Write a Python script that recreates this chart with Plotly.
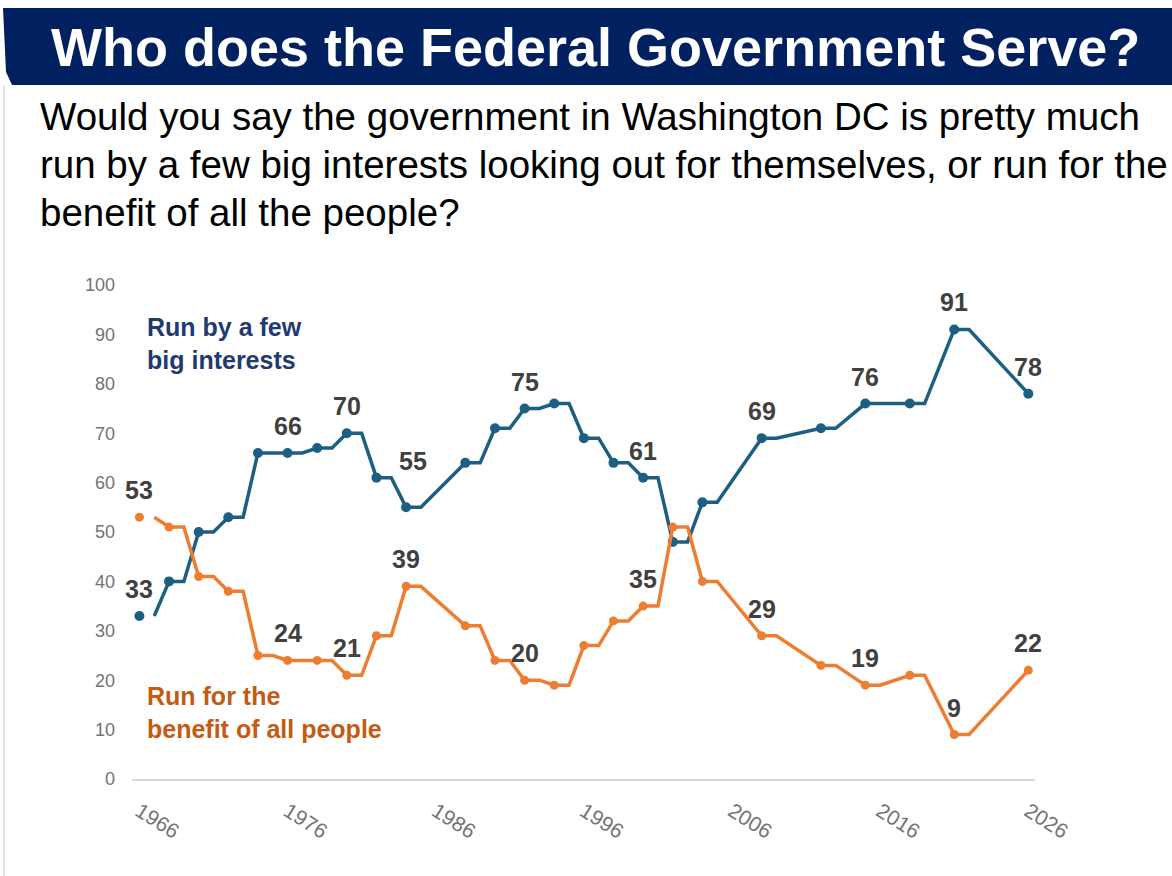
import plotly.graph_objects as go

# ---------------- data ----------------
years = [1966, 1968, 1970, 1972, 1974, 1976, 1978, 1980, 1982, 1984, 1988, 1990,
         1992, 1994, 1996, 1998, 2000, 2002, 2004, 2008, 2012, 2015, 2018, 2021, 2026]
few_big_interests = [33, 40, 50, 53, 66, 66, 67, 70, 61, 55, 64, 71,
                     75, 76, 69, 64, 61, 48, 56, 69, 71, 76, 76, 91, 78]
benefit_all = [53, 51, 41, 38, 25, 24, 24, 21, 29, 39, 31, 24,
               20, 19, 27, 32, 35, 51, 40, 29, 23, 19, 21, 9, 22]
labeled_years_few = [1966, 1976, 1980, 1984, 1992, 2000, 2008, 2015, 2021, 2026]
labeled_years_benefit = [1966, 1976, 1980, 1984, 1992, 2000, 2008, 2015, 2021, 2026]
x_ticks = [1966, 1976, 1986, 1996, 2006, 2016, 2026]

title_text = "Who does the Federal Government Serve?"
question_lines = [
    "Would you say the government in Washington DC is pretty much",
    "run by a few big interests looking out for themselves, or run for the",
    "benefit of all the people?",
]
label_few = "Run by a few<br>big interests"
label_benefit = "Run for the<br>benefit of all people"

# ---------------- style ----------------
BLUE = "#1c5f82"
ORANGE = "#ed7d31"
NAVY = "#002060"
LABEL_BLUE = "#1f3a70"
LABEL_ORANGE = "#c55a11"
DARK = "#404040"
GRAY = "#737373"
FONT = "Liberation Sans, Arial, sans-serif"

W, H = 1172, 876
ML, MR, MT, MB = 132, 137, 285, 97
PW, PH = W - ML - MR, H - MT - MB


def px(x):
    return (x - ML) / PW


def py(y):
    return (H - MB - y) / PH


HOLD = 1  # drawn flat segment after each survey point


def held_line(xs, ys):
    lx, ly = [xs[0] + HOLD], [ys[0]]
    for i in range(1, len(xs)):
        lx.append(xs[i]); ly.append(ys[i])
        if i < len(xs) - 1:
            lx.append(xs[i] + HOLD); ly.append(ys[i])
    return lx, ly


fig = go.Figure()

for vals, color, msize in [(few_big_interests, BLUE, 10), (benefit_all, ORANGE, 9)]:
    lx, ly = held_line(years, vals)
    fig.add_trace(go.Scatter(x=lx, y=ly, mode="lines",
                             line=dict(color=color, width=3.5),
                             hoverinfo="skip", showlegend=False, cliponaxis=False))
    fig.add_trace(go.Scatter(x=years, y=vals, mode="markers",
                             marker=dict(color=color, size=msize),
                             showlegend=False, cliponaxis=False))

annotations = []
for vals, lab_years in [(few_big_interests, labeled_years_few), (benefit_all, labeled_years_benefit)]:
    for yr in lab_years:
        v = vals[years.index(yr)]
        xs, ys = 0, 11
        if vals is few_big_interests and yr == 1984:
            xs, ys = 7, 30
        annotations.append(dict(x=yr, y=v, xref="x", yref="y", text=str(v),
                                showarrow=False, yanchor="bottom", xanchor="center",
                                xshift=xs, yshift=ys,
                                font=dict(family=FONT, size=25, color=DARK, weight="bold")))

# series labels
annotations.append(dict(x=px(145), y=py(343), xref="paper", yref="paper", text=label_few,
                        showarrow=False, xanchor="left", yanchor="middle", align="left",
                        font=dict(family=FONT, size=25, color=LABEL_BLUE, weight="bold")))
annotations.append(dict(x=px(145), y=py(712), xref="paper", yref="paper", text=label_benefit,
                        showarrow=False, xanchor="left", yanchor="middle", align="left",
                        font=dict(family=FONT, size=25, color=LABEL_ORANGE, weight="bold")))

# title
annotations.append(dict(x=px(595), y=py(47), xref="paper", yref="paper", text=title_text,
                        showarrow=False, xanchor="center", yanchor="middle",
                        font=dict(family=FONT, size=54, color="white", weight="bold")))
# question
for i, line in enumerate(question_lines):
    annotations.append(dict(x=px(38), y=py(116 + 48 * i), xref="paper", yref="paper", text=line,
                            showarrow=False, xanchor="left", yanchor="middle", align="left",
                            font=dict(family=FONT, size=38.5, color="black")))

shapes = [
    dict(type="path", xref="paper", yref="paper",
         path=(f"M {px(3)},{py(8)} L {px(1172)},{py(8)} L {px(1172)},{py(85)} "
               f"L {px(12)},{py(85)} L {px(6)},{py(72)} Z"),
         fillcolor=NAVY, line=dict(width=0), layer="below"),
    dict(type="line", xref="paper", yref="paper", x0=px(4), x1=px(4), y0=py(86), y1=py(876),
         line=dict(color="#e3e3e3", width=2), layer="below"),
]

fig.update_layout(
    width=W, height=H, autosize=False,
    margin=dict(l=ML, r=MR, t=MT, b=MB),
    paper_bgcolor="white", plot_bgcolor="white",
    showlegend=False,
    annotations=annotations, shapes=shapes,
    xaxis=dict(range=[1965.5, 2026.45], tickvals=x_ticks, tickangle=32,
               showgrid=False, zeroline=False, showline=True, linecolor="#d9d9d9", linewidth=2,
               ticks="", ticklabelstandoff=10,
               tickfont=dict(family=FONT, size=21, color=GRAY)),
    yaxis=dict(range=[0, 100], dtick=10, showgrid=False, zeroline=False, showline=False,
               ticks="", ticklabelstandoff=16,
               tickfont=dict(family=FONT, size=18, color=GRAY)),
)

fig.write_html("out.html")
